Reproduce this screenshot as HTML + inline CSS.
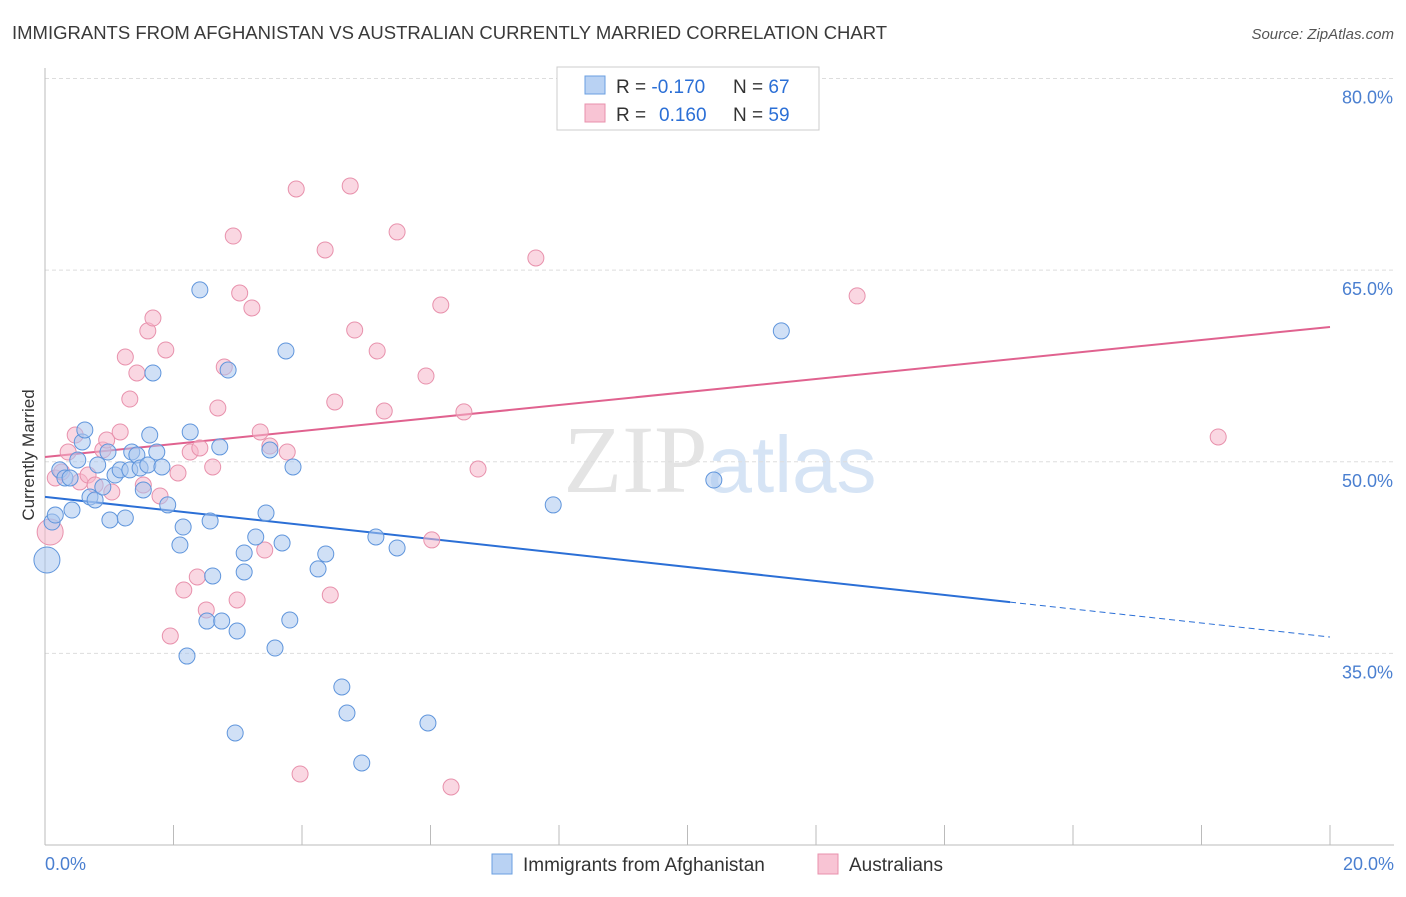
<!DOCTYPE html>
<html><head><meta charset="utf-8"><style>
body{margin:0;background:#fff;font-family:"Liberation Sans",sans-serif;}
svg text{font-family:"Liberation Sans",sans-serif;}
</style></head><body>
<svg id="chart" width="1406" height="892">
<text x="12" y="39" font-size="18.5" fill="#3a3a3a">IMMIGRANTS FROM AFGHANISTAN VS AUSTRALIAN CURRENTLY MARRIED CORRELATION CHART</text>
<text x="1394" y="39" font-size="15" fill="#555" font-style="italic" text-anchor="end">Source: ZipAtlas.com</text>
<text x="720" y="492" font-size="96" fill="#e4e4e4" text-anchor="middle" font-family="Liberation Serif"><tspan font-family="Liberation Serif">ZIP</tspan><tspan fill="#d6e4f5" font-family="Liberation Sans" font-size="80">atlas</tspan></text>
<text transform="translate(34,455) rotate(-90)" font-size="17" fill="#333" text-anchor="middle">Currently Married</text>
<g id="grid"></g><g id="ticks"></g><g id="trends"></g><g id="pts"></g>
<g>
<rect x="557" y="67" width="262" height="63" fill="#fff" stroke="#ccc"/>
<rect x="585" y="76" width="20" height="18" fill="#b9d2f3" stroke="#6a9fe0"/>
<rect x="585" y="104" width="20" height="18" fill="#f8c4d4" stroke="#e891ac"/>
<text x="616" y="93" font-size="19" fill="#333">R = <tspan fill="#2b6fd6">-0.170</tspan><tspan x="733">N = </tspan><tspan fill="#2b6fd6">67</tspan></text>
<text x="616" y="121" font-size="19" fill="#333">R = <tspan fill="#2b6fd6" x="659">0.160</tspan><tspan x="733">N = </tspan><tspan fill="#2b6fd6">59</tspan></text>
</g>
<g>
<rect x="492" y="854" width="20" height="20" fill="#b9d2f3" stroke="#6a9fe0"/>
<text x="523" y="871" font-size="19" fill="#333">Immigrants from Afghanistan</text>
<rect x="818" y="854" width="20" height="20" fill="#f8c4d4" stroke="#e891ac"/>
<text x="849" y="871" font-size="19" fill="#333">Australians</text>
</g>
</svg>
<script>
const xTicks=[0,2,4,6,8,10,12,14,16,18,20];
const yTicks=[35,50,65,80];
const yTickLabels=["35.0%","50.0%","65.0%","80.0%"];
const blueX=[0.03,0.11,0.16,0.23,0.31,0.39,0.42,0.51,0.58,0.62,0.70,0.78,0.82,0.90,0.98,1.01,1.09,1.17,1.25,1.32,1.35,1.43,1.48,1.53,1.60,1.63,1.68,1.74,1.82,1.91,2.10,2.15,2.21,2.26,2.41,2.52,2.57,2.61,2.72,2.75,2.85,2.96,2.99,3.10,3.10,3.28,3.44,3.50,3.58,3.69,3.75,3.81,3.86,4.25,4.37,4.62,4.70,4.93,5.15,5.48,5.96,7.91,10.41,11.46];
const blueY=[42.31,45.28,45.83,49.36,48.73,48.73,46.22,50.14,51.55,52.49,47.24,47.01,49.75,48.02,50.76,45.44,48.96,49.36,45.60,49.36,50.76,50.53,49.51,47.79,49.75,52.09,56.95,50.76,49.59,46.62,43.48,44.89,34.79,52.33,63.45,37.53,45.36,41.06,51.16,37.53,57.18,28.77,36.75,42.86,41.37,44.11,45.99,50.92,35.42,43.64,58.67,37.61,49.59,41.61,42.78,32.37,30.33,26.42,44.11,43.25,29.55,46.62,48.57,60.24];
const pinkX=[0.08,0.16,0.26,0.36,0.47,0.54,0.67,0.78,0.90,0.96,1.04,1.17,1.25,1.32,1.43,1.53,1.60,1.68,1.79,1.88,1.95,2.07,2.16,2.26,2.37,2.41,2.51,2.61,2.69,2.79,2.93,2.99,3.03,3.22,3.35,3.42,3.50,3.77,3.91,3.97,4.36,4.44,4.51,4.75,4.82,5.17,5.28,5.48,5.93,6.02,6.16,6.32,6.52,6.74,7.64,12.64,18.26];
const pinkY=[44.50,48.73,49.20,50.76,52.09,48.42,48.96,48.18,50.92,51.70,47.63,52.33,58.20,54.91,56.95,48.18,60.24,61.25,47.32,58.75,36.36,49.12,39.96,50.76,40.98,51.08,38.40,49.59,54.21,57.42,67.67,39.18,63.21,62.04,52.33,43.09,51.23,50.76,71.35,25.56,66.58,39.57,54.68,71.59,60.31,58.67,53.97,67.99,56.71,43.88,62.27,24.54,53.90,49.43,65.95,62.98,51.94];
const blueTrend=[47.25,36.28];
const pinkTrend=[50.37,60.55];
const blueSolidEnd=15.02;

const NS="http://www.w3.org/2000/svg";
const sx=v=>45+v/20*1285;
const sy=v=>845-(v-20)/60*766.5;
function mk(t,a,p){const e=document.createElementNS(NS,t);for(const k in a)e.setAttribute(k,a[k]);p.appendChild(e);return e;}
const grid=document.getElementById('grid'),ticks=document.getElementById('ticks');
yTicks.forEach((v,i)=>{
 const l=mk('line',{x1:45,x2:1394,y1:sy(v),y2:sy(v),stroke:'#ddd','stroke-dasharray':'4,3'},grid);
 
 
 const t=mk('text',{x:1393,y:sy(v)+25,'font-size':18,fill:'#4a7fd0','text-anchor':'end'},ticks);
 t.textContent=yTickLabels[i];
 
 
});
const ax=mk('line',{x1:45,x2:45,y1:68,y2:845,stroke:'#bbb'},grid);


const bx=mk('line',{x1:45,x2:1394,y1:845,y2:845,stroke:'#bbb'},grid);


xTicks.forEach(v=>{
 const l=mk('line',{x1:sx(v),x2:sx(v),y1:825,y2:845,stroke:'#bbb'},ticks);
 
 
});
[[0,'0.0%','start',45],[20,'20.0%','end',1394]].forEach(d=>{
 const t=mk('text',{x:d[3],y:870,'font-size':18,fill:'#4a7fd0','text-anchor':d[2]},ticks);
 t.textContent=d[1];
 
 
});
const pts=document.getElementById('pts');
function dots(X,Y,fill,stroke,name){
 X.forEach((x,i)=>{
  const c=mk('circle',{cx:sx(x),cy:sy(Y[i]),r:i===0?13:8,fill:fill,'fill-opacity':0.55,stroke:stroke,'stroke-width':1},pts);
  
  
 });
}
dots(pinkX,pinkY,'#f6b7cb','#e891ac','australians-point');
dots(blueX,blueY,'#a9c7ef','#5f95dc','afghanistan-point');
const tr=document.getElementById('trends');
const by=x=>blueTrend[0]+(blueTrend[1]-blueTrend[0])*x/20;
const b1=mk('line',{x1:sx(0),y1:sy(blueTrend[0]),x2:sx(blueSolidEnd),y2:sy(by(blueSolidEnd)),stroke:'#2b6fd6','stroke-width':2},tr);


const b2=mk('line',{x1:sx(blueSolidEnd),y1:sy(by(blueSolidEnd)),x2:sx(20),y2:sy(blueTrend[1]),stroke:'#2b6fd6','stroke-width':1,'stroke-dasharray':'6,4'},tr);


const p1=mk('line',{x1:sx(0),y1:sy(pinkTrend[0]),x2:sx(20),y2:sy(pinkTrend[1]),stroke:'#e0628f','stroke-width':2},tr);


</script>
</body></html>
